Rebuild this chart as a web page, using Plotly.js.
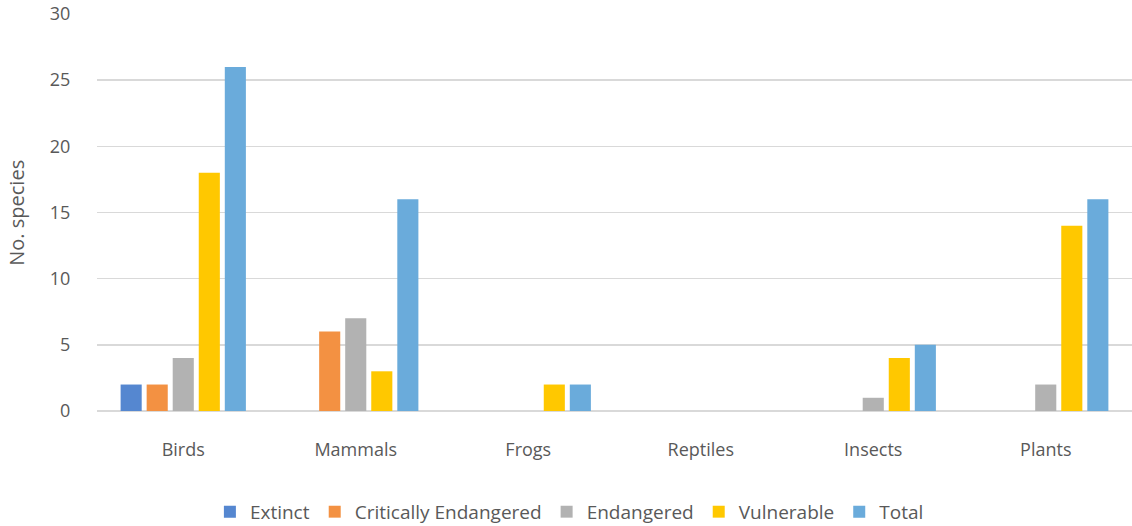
<!DOCTYPE html>
<html>
<head>
<meta charset="utf-8">
<script src="https://cdn.plot.ly/plotly-3.0.1.min.js"></script>
<style>html,body{margin:0;padding:0;background:#fff}#chart{width:1132px;height:526px}</style>
</head>
<body>
<div id="chart"></div>
<script>
const categories = ["Birds", "Mammals", "Frogs", "Reptiles", "Insects", "Plants"];
const extinct = [2, 0, 0, 0, 0, 0];
const criticallyEndangered = [2, 6, 0, 0, 0, 0];
const endangered = [4, 7, 0, 0, 1, 2];
const vulnerable = [18, 3, 2, 0, 4, 14];
const total = [26, 16, 2, 0, 5, 16];
const seriesNames = ["Extinct", "Critically Endangered", "Endangered", "Vulnerable", "Total"];
const seriesValues = [extinct, criticallyEndangered, endangered, vulnerable, total];
const colors = ["#5587D0", "#F39142", "#B2B2B2", "#FFC800", "#6AABDB"];
const yTitle = "No. species";

const traces = seriesNames.map((n, i) => ({
  type: "bar",
  name: n,
  x: categories,
  y: seriesValues[i],
  marker: { color: colors[i], line: { width: 0 } },
  hoverinfo: "x+y+name"
}));

const font = { family: "Open Sans, sans-serif", size: 18, color: "#595959" };

const layout = {
  width: 1132, height: 526,
  margin: { l: 97, r: 0, t: 14, b: 115, autoexpand: false },
  paper_bgcolor: "#ffffff", plot_bgcolor: "#ffffff",
  font: font,
  barmode: "group",
  bargap: 0.245,
  bargroupgap: 0.19,
  showlegend: true,
  legend: {
    orientation: "h", xref: "container", yref: "container",
    x: 0.503, xanchor: "center", y: 0.027, yanchor: "middle",
    font: { family: "Open Sans, sans-serif", size: 19, color: "#595959" },
    itemwidth: 30, traceorder: "normal"
  },
  xaxis: {
    type: "category",
    showgrid: false, zeroline: false, showline: false,
    ticks: "outside", ticklen: 22, tickcolor: "rgba(0,0,0,0)",
    tickfont: font
  },
  yaxis: {
    range: [0, 30], dtick: 5, tick0: 0,
    showgrid: true, gridcolor: "#D9D9D9", gridwidth: 1.5,
    zeroline: true, zerolinecolor: "#D9D9D9", zerolinewidth: 1.5,
    showline: false,
    ticks: "outside", ticklen: 22, tickcolor: "rgba(0,0,0,0)",
    tickfont: font
  },
  annotations: [{
    text: yTitle, textangle: -90, showarrow: false,
    xref: "paper", yref: "paper", x: -0.078, xanchor: "center",
    y: 0.5, yanchor: "middle",
    font: { family: "Open Sans, sans-serif", size: 20, color: "#595959" }
  }]
};

Plotly.newPlot("chart", traces, layout, { displayModeBar: false, staticPlot: true });
</script>
</body>
</html>
